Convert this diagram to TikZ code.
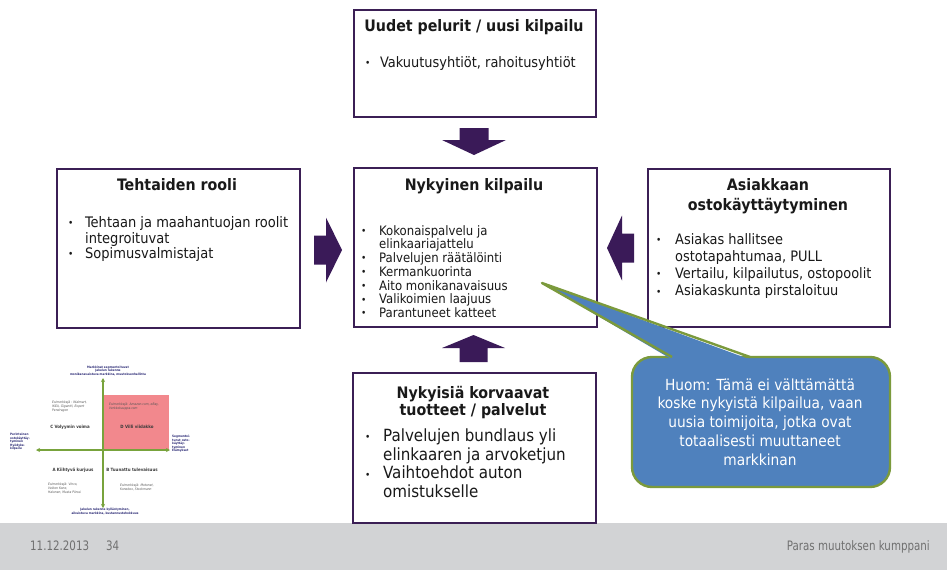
\documentclass[tikz,border=0pt]{standalone}
\usepackage{fontspec}
\setmainfont{DejaVu Sans Condensed}
\usetikzlibrary{arrows.meta}

\definecolor{boxline}{HTML}{3B1F55}
\definecolor{arrowfill}{HTML}{3A1A58}
\definecolor{calloutfill}{HTML}{4F81BD}
\definecolor{calloutline}{HTML}{7B9A3C}
\definecolor{footergrey}{HTML}{D2D3D5}
\definecolor{footertext}{HTML}{707070}
\definecolor{axisgreen}{HTML}{78A33C}
\definecolor{quadpink}{HTML}{F2888D}
\definecolor{labelnavy}{HTML}{2B2A75}
\definecolor{quadtext}{HTML}{3A3A3A}
\definecolor{exampletext}{HTML}{555555}

% small bullet used in all lists
\newcommand\bul{\raisebox{0.9pt}{\fontsize{10}{10}\selectfont •}}

\tikzset{
  box/.style={draw=boxline, line width=2.4pt, fill=white, inner sep=0pt, anchor=north west},
  titletext/.style={inner sep=0pt, anchor=base, font=\bfseries\fontsize{15.8}{18}\selectfont, text=black!90},
  listtext/.style={inner sep=0pt, anchor=base west, text=black!90},
  blockarrow/.style={fill=arrowfill},
  calloutshape/.style={fill=calloutfill, draw=calloutline, line width=2.4pt},
  axis/.style={draw=axisgreen, line width=1.1pt, {Stealth[length=4pt,width=4pt]}-{Stealth[length=4pt,width=4pt]}},
  tiny/.style={inner sep=0pt, font=\fontsize{3.1}{3.6}\selectfont},
  axislabel/.style={tiny, text=labelnavy, font=\bfseries\fontsize{3.1}{3.6}\selectfont},
  quadlabel/.style={inner sep=0pt, text=quadtext, font=\bfseries\fontsize{4.4}{5}\selectfont},
  example/.style={tiny, text=exampletext, font=\itshape\fontsize{3.3}{4.1}\selectfont, align=left, anchor=north west},
  footer/.style={inner sep=0pt, text=footertext, font=\fontsize{13}{15}\selectfont},
}

\begin{document}
\begin{tikzpicture}[x=1pt, y=-1pt]
\useasboundingbox (0,0) rectangle (947,570);
\fill[white] (0,0) rectangle (947,570);

% footer band
\fill[footergrey] (0,523) rectangle (947,570);
\node[footer, anchor=base west] (date) at (30,550.5) {\scalebox{0.88}[1]{11.12.2013}};
\node[footer, anchor=base west] (page) at (106,550.5) {\scalebox{0.88}[1]{34}};
\node[footer, anchor=base east] (slogan) at (930,550.5) {\scalebox{0.88}[1]{Paras muutoksen kumppani}};

% the five boxes
\node[box, minimum width=242pt, minimum height=107pt] (newplayers) at (353,9) {};
\node[box, minimum width=243pt, minimum height=159pt] (current) at (353,167) {};
\node[box, minimum width=243pt, minimum height=159pt] (factories) at (56,168) {};
\node[box, minimum width=242pt, minimum height=158pt] (customers) at (647,168) {};
\node[box, minimum width=243pt, minimum height=150pt] (substitutes) at (352,372) {};

% block arrows pointing into the centre box
\fill[blockarrow] (459.5,128) -- (488.5,128) -- (488.5,140) -- (506,140) -- (474,155) -- (442,140) -- (459.5,140) -- cycle;
\fill[blockarrow] (459.5,362) -- (487.5,362) -- (487.5,348) -- (505,348) -- (473.5,335) -- (442,348) -- (459.5,348) -- cycle;
\fill[blockarrow] (314,235.5) -- (326,235.5) -- (326,217.5) -- (342,250) -- (326,282.5) -- (326,264.5) -- (314,264.5) -- cycle;
\fill[blockarrow] (634,233.5) -- (622,233.5) -- (622,215.5) -- (607,248) -- (622,280.5) -- (622,262.5) -- (634,262.5) -- cycle;

% top box
\node[titletext] (newplayersTitle) at (474,31) {Uudet pelurit / uusi kilpailu};
\node[listtext] (newplayersList) at (365,67.5) {\fontsize{14.4}{16}\selectfont
  \begin{tabular}[t]{@{}p{15pt}@{}l@{}}\bul&Vakuutusyhtiöt, rahoitusyhtiöt\end{tabular}};

% centre box
\node[titletext] (currentTitle) at (474,190) {Nykyinen kilpailu};
\node[listtext] (currentList) at (361,235) {\fontsize{13}{13.05}\selectfont
  \begin{tabular}[t]{@{}p{18pt}@{}l@{}}
  \bul&Kokonaispalvelu ja\\
  &elinkaariajattelu\\
  \bul&Palvelujen räätälöinti\\
  \bul&Kermankuorinta\\
  \bul&Aito monikanavaisuus\\
  \bul&Valikoimien laajuus\\
  \bul&Parantuneet katteet
  \end{tabular}};

% left box
\node[titletext] (factoriesTitle) at (177,190) {Tehtaiden rooli};
\node[listtext] (factoriesList) at (68,227.5) {\fontsize{14.5}{15.6}\selectfont
  \begin{tabular}[t]{@{}p{17pt}@{}l@{}}
  \bul&Tehtaan ja maahantuojan roolit\\
  &integroituvat\\
  \bul&Sopimusvalmistajat
  \end{tabular}};

% right box
\node[titletext] (customersTitle) at (768,190) {Asiakkaan};
\node[titletext] (customersTitle2) at (768,210) {ostokäyttäytyminen};
\node[listtext] (customersList) at (656,244) {\fontsize{14.4}{17.3}\selectfont
  \begin{tabular}[t]{@{}p{19pt}@{}l@{}}
  \bul&Asiakas hallitsee\\
  &ostotapahtumaa, PULL\\
  \bul&Vertailu, kilpailutus, ostopoolit\\
  \bul&Asiakaskunta pirstaloituu
  \end{tabular}};

% bottom box
\node[titletext] (substitutesTitle) at (473,398) {Nykyisiä korvaavat};
\node[titletext] (substitutesTitle2) at (473,415) {tuotteet / palvelut};
\node[listtext] (substitutesList) at (365,441.5) {\fontsize{16.8}{18.7}\selectfont
  \begin{tabular}[t]{@{}p{18pt}@{}l@{}}
  \bul&Palvelujen bundlaus yli\\
  &elinkaaren ja arvoketjun\\
  \bul&Vaihtoehdot auton\\
  &omistukselle
  \end{tabular}};

% callout with its pointer
\coordinate (calloutTip) at (542,283);
\draw[calloutshape, rounded corners=20pt] (632,357) rectangle (890,487);
\fill[calloutfill] (672,359.5) -- (calloutTip) -- (750,359.5) -- cycle;
\draw[draw=calloutline, line width=2.4pt, line join=round] (672,357) -- (calloutTip) -- (750,357);
\node[inner sep=0pt, anchor=base, text=white] (calloutText) at (760,390) {\fontsize{15.3}{18.75}\selectfont
  \begin{tabular}[t]{@{}c@{}}
  Huom: Tämä ei välttämättä\\
  koske nykyistä kilpailua, vaan\\
  uusia toimijoita, jotka ovat\\
  totaalisesti muuttaneet\\
  markkinan
  \end{tabular}};

% small strategy matrix
\fill[quadpink] (103,395) rectangle (169,450);
\coordinate (axTop) at (103,378);
\coordinate (axBottom) at (103,508);
\coordinate (axLeft) at (36,450);
\coordinate (axRight) at (170,450);
\draw[axis] (axTop) -- (axBottom);
\draw[axis] (axLeft) -- (axRight);

\node[axislabel, anchor=south, align=center] (mTop) at (108,376) {Markkinat segmentoituvat\\Jakelun rakenne\\monikanavaistuva markkina, muutoksenhallinta};
\node[axislabel, anchor=north, align=center] (mBottom) at (105,508) {Jakelun rakenne kyllästyminen,\\aikuistuva markkina, kustannustehokkuus};
\node[axislabel, anchor=north west, align=left] (mLeft) at (10,433) {Perinteinen\\ostokäyttäy-\\tyminen\\Hyödyke-\\kilpailu};
\node[axislabel, anchor=north west, align=left] (mRight) at (172,435) {Segmentoi-\\tunut osto-\\käyttäy-\\tyminen\\Elämykset};

\node[quadlabel] (qC) at (70,427) {C Volyymin voima};
\node[quadlabel] (qD) at (137,427) {D Villi viidakko};
\node[quadlabel] (qA) at (73,470) {A Kiihtyvä kurjuus};
\node[quadlabel] (qB) at (132,470) {B Tuunattu tulevaisuus};

\node[example] (exC) at (52,401) {Esimerkkejä : Walmart,\\IKEA, Gigantti, Expert\\Pendragon};
\node[example] (exD) at (109,403) {Esimerkkejä: Amazon.com, eBay,\\Verkkokauppa.com};
\node[example] (exA) at (48,483) {Esimerkkejä: Vinco,\\Veikon Kone,\\Halonen, Musta Pörssi};
\node[example] (exB) at (120,484) {Esimerkkejä: Motonet,\\Konebox, Stockmann};
\end{tikzpicture}
\end{document}
